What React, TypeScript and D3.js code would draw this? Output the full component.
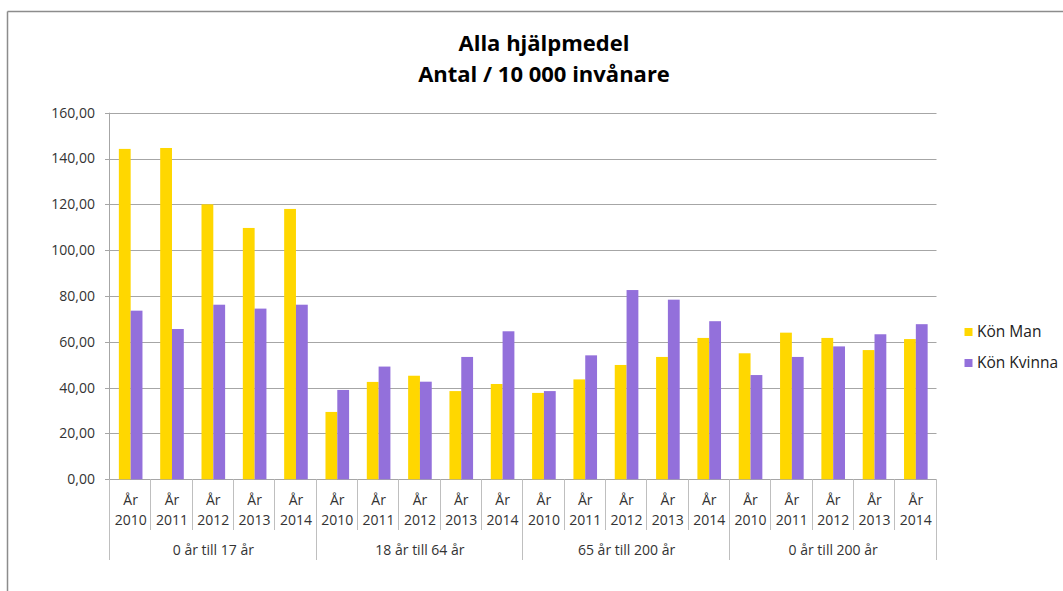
import React, { useEffect, useRef } from "react";
import { select, scaleBand, scaleLinear, format, range } from "d3";

const groups = ["0 år till 17 år", "18 år till 64 år", "65 år till 200 år", "0 år till 200 år"];
const years = ["2010", "2011", "2012", "2013", "2014"];
const seriesNames = ["Kön Man", "Kön Kvinna"];
const colors = ["#FFD700", "#9370DB"];

// one value per year, groups in order
const man = [
  144.2, 144.6, 120.0, 109.7, 118.0,
  29.4, 42.5, 45.2, 38.5, 41.6,
  37.7, 43.6, 49.9, 53.4, 61.7,
  55.0, 64.0, 61.7, 56.4, 61.2,
];
const kvinna = [
  73.6, 65.6, 76.2, 74.5, 76.2,
  39.0, 49.2, 42.6, 53.4, 64.6,
  38.5, 54.1, 82.6, 78.4, 69.0,
  45.5, 53.4, 58.0, 63.3, 67.7,
];
const yTicks = [0, 20, 40, 60, 80, 100, 120, 140, 160];

const FONT = "'Open Sans', 'Liberation Sans', sans-serif";

const App = () => {
  const svgRef = useRef<SVGSVGElement>(null);

  useEffect(() => {
    const svg = select(svgRef.current);
    svg.selectAll("*").remove();

    const left = 110,
      right = 936.5,
      top = 112.7,
      bottom = 479.3;

    const keys = range(groups.length * years.length);
    const x = scaleBand<number>().domain(keys).range([left, right]);
    const inner = scaleBand<string>()
      .domain(seriesNames)
      .range([0, x.bandwidth()])
      .paddingInner(0)
      .paddingOuter(0.75);
    const y = scaleLinear().domain([0, 160]).range([bottom, top]);
    const fmt = (d: number) => format(".2f")(d).replace(".", ",");

    // chart border
    svg.append("line").attr("x1", 7.5).attr("x2", 7.5).attr("y1", 11.5).attr("y2", 591)
      .attr("stroke", "#8c8c8c").attr("stroke-width", 1.5);
    svg.append("line").attr("x1", 7.5).attr("x2", 1063).attr("y1", 11.5).attr("y2", 11.5)
      .attr("stroke", "#8c8c8c").attr("stroke-width", 1.5);

    // title
    const title = svg.append("g").attr("font-family", FONT).attr("font-weight", "bold")
      .attr("font-size", 22).attr("fill", "#000").attr("text-anchor", "middle");
    title.append("text").attr("x", 544).attr("y", 50.5).text("Alla hjälpmedel");
    title.append("text").attr("x", 544).attr("y", 81.5).text("Antal / 10 000 invånare");

    // grid + y axis
    svg.append("g").selectAll("line").data(yTicks).enter().append("line")
      .attr("x1", left - 5).attr("x2", right)
      .attr("y1", (d) => Math.round(y(d)) + 0.5).attr("y2", (d) => Math.round(y(d)) + 0.5)
      .attr("stroke", "#a6a6a6");
    svg.append("line").attr("x1", left - 0.5).attr("x2", left - 0.5)
      .attr("y1", top).attr("y2", bottom).attr("stroke", "#a6a6a6");
    svg.append("g").selectAll("text").data(yTicks).enter().append("text")
      .attr("x", 95).attr("y", (d) => y(d)).attr("dy", "0.35em")
      .attr("text-anchor", "end").attr("font-family", FONT).attr("font-size", 14)
      .attr("fill", "#333").text(fmt);

    // bars
    const series = [man, kvinna];
    seriesNames.forEach((name, si) => {
      svg.append("g").selectAll("rect").data(series[si]).enter().append("rect")
        .attr("x", (d, i) => (x(i) as number) + (inner(name) as number))
        .attr("width", inner.bandwidth())
        .attr("y", (d) => y(d))
        .attr("height", (d) => y(0) - y(d))
        .attr("fill", colors[si]);
    });

    // category axis
    const xa = svg.append("g").attr("font-family", FONT).attr("font-size", 14).attr("fill", "#333");
    xa.selectAll("line.cat").data(range(keys.length + 1)).enter().append("line")
      .attr("x1", (i) => Math.round(left + i * x.step()) - 0.5)
      .attr("x2", (i) => Math.round(left + i * x.step()) - 0.5)
      .attr("y1", bottom)
      .attr("y2", (i) => (i % years.length === 0 ? 560 : 530))
      .attr("stroke", "#bfbfbf");
    keys.forEach((k) => {
      const cx = (x(k) as number) + x.bandwidth() / 2;
      xa.append("text").attr("x", cx).attr("y", 500).attr("dy", "0.35em")
        .attr("text-anchor", "middle").text("År");
      xa.append("text").attr("x", cx).attr("y", 520).attr("dy", "0.35em")
        .attr("text-anchor", "middle").text(years[k % years.length]);
    });
    groups.forEach((g, gi) => {
      const cx = (x(gi * years.length) as number) + (x.step() * years.length) / 2;
      xa.append("text").attr("x", cx).attr("y", 550).attr("dy", "0.35em")
        .attr("text-anchor", "middle").text(g);
    });

    // legend
    const lg = svg.append("g").attr("font-family", FONT).attr("font-size", 15.5).attr("fill", "#222");
    seriesNames.forEach((name, si) => {
      const ly = 332 + si * 31;
      lg.append("rect").attr("x", 964.5).attr("y", ly - 4).attr("width", 8).attr("height", 8)
        .attr("fill", colors[si]);
      lg.append("text").attr("x", 977).attr("y", ly).attr("dy", "0.35em").text(name);
    });
  }, []);

  return (
    <svg
      ref={svgRef}
      width={1063}
      height={591}
      style={{ position: "absolute", left: 0, top: 0, background: "#fff" }}
    ></svg>
  );
};

export default App;
